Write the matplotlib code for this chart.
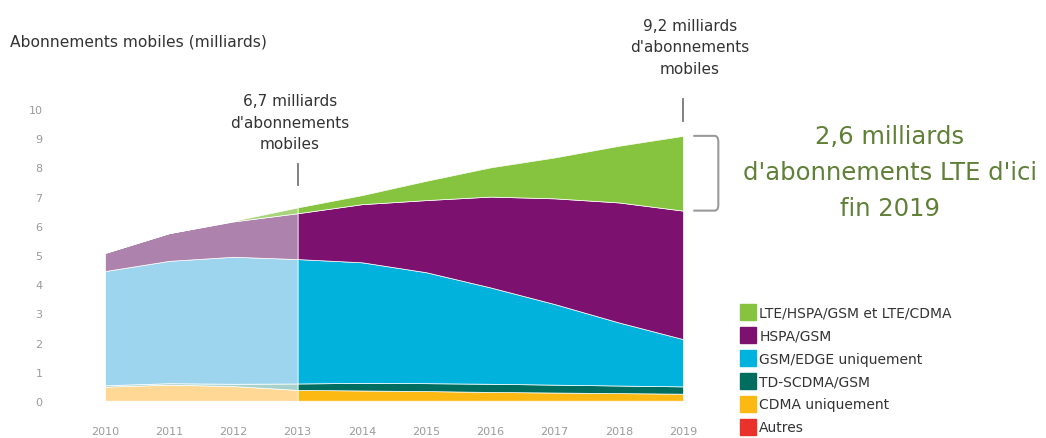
import matplotlib.pyplot as plt
from matplotlib.lines import Line2D
from matplotlib.path import Path
from matplotlib.patches import PathPatch

# Abonnements mobiles par technologie (milliards)
annees = [2010, 2011, 2012, 2013, 2014, 2015, 2016, 2017, 2018, 2019]
autres = [0.01, 0.01, 0.01, 0.01, 0.01, 0.01, 0.01, 0.01, 0.01, 0.01]
cdma = [0.48, 0.55, 0.50, 0.37, 0.35, 0.33, 0.30, 0.28, 0.26, 0.24]
td_scdma = [0.05, 0.05, 0.08, 0.22, 0.26, 0.27, 0.28, 0.27, 0.26, 0.25]
gsm_edge = [3.91, 4.19, 4.35, 4.26, 4.13, 3.80, 3.30, 2.76, 2.16, 1.62]
hspa = [0.62, 0.95, 1.21, 1.57, 1.99, 2.47, 3.11, 3.62, 4.11, 4.40]
lte = [0.0, 0.0, 0.02, 0.20, 0.31, 0.66, 1.00, 1.40, 1.94, 2.56]

series = [autres, cdma, td_scdma, gsm_edge, hspa, lte]
couleurs = ["#e8322b", "#fdb913", "#006e5f", "#00b2dc", "#7d116f", "#86c440"]
couleurs_pales = ["#f3a09b", "#ffd896", "#a6d2cb", "#9dd5ee", "#ad82ac", "#a8d47a"]
noms = ["Autres", "CDMA uniquement", "TD-SCDMA/GSM", "GSM/EDGE uniquement",
        "HSPA/GSM", "LTE/HSPA/GSM et LTE/CDMA"]

W, H = 1046, 439
fig = plt.figure(figsize=(W / 100, H / 100), dpi=100)
plt.rcParams["font.family"] = ["DejaVu Sans"]


def fx(px):
    return px / W


def fy(py):
    return 1 - py / H


ax = fig.add_axes([fx(105), fy(402), fx(683) - fx(105), fy(110) - fy(402)])
# historique 2010-2013 en pâle, prévisions 2013-2019 en plein
i = annees.index(2013)
ax.stackplot(annees[:i + 1], *[s[:i + 1] for s in series], colors=couleurs_pales,
             edgecolor="#ffffff", linewidth=0.5)
ax.stackplot(annees[i:], *[s[i:] for s in series], colors=couleurs,
             edgecolor="#ffffff", linewidth=0.5)

ax.set_xlim(2010, 2019)
ax.set_ylim(0, 10)
ax.set_xticks(annees)
ax.set_yticks(range(0, 11))
for s in ax.spines.values():
    s.set_visible(False)
ax.tick_params(axis="both", length=0, labelsize=8, colors="#9a9a9a")
ax.tick_params(axis="x", pad=18)
ax.tick_params(axis="y", pad=45)
ax.patch.set_alpha(0)

fig.text(fx(10), fy(42), "Abonnements mobiles (milliards)", fontsize=11.2,
         color="#333333", ha="left", va="center")

# repères des totaux
fig.text(fx(290), fy(123), "6,7 milliards\nd'abonnements\nmobiles", fontsize=11,
         color="#333333", ha="center", va="center", linespacing=1.55)
ax.plot([2013, 2013], [7.4, 8.1], color="#777777", lw=1.3, clip_on=False)

fig.text(fx(690), fy(48), "9,2 milliards\nd'abonnements\nmobiles", fontsize=11,
         color="#333333", ha="center", va="center", linespacing=1.55)
ax.plot([2019, 2019], [9.6, 10.35], color="#777777", lw=1.3, clip_on=False)

# accolade LTE 2019
haut = sum(s[-1] for s in series)
bas = haut - lte[-1]
x0, x1 = 2019.16, 2019.55
verts = [(x0, haut), (x1 - 0.06, haut), (x1, haut), (x1, haut - 0.2),
         (x1, bas + 0.2), (x1, bas), (x1 - 0.06, bas), (x0, bas)]
codes = [Path.MOVETO, Path.LINETO, Path.CURVE3, Path.CURVE3,
         Path.LINETO, Path.CURVE3, Path.CURVE3, Path.LINETO]
ax.add_patch(PathPatch(Path(verts, codes), fill=False, edgecolor="#9a9a9a",
                       lw=1.5, clip_on=False))

fig.text(fx(890), fy(173), "2,6 milliards\nd'abonnements LTE d'ici\nfin 2019",
         fontsize=17.5, color="#5f8036", ha="center", va="center", linespacing=1.62)

# légende
handles = [Line2D([], [], marker="s", linestyle="none", markersize=11,
                  markerfacecolor=c, markeredgecolor=c)
           for c in couleurs[::-1]]
fig.legend(handles, noms[::-1], loc="upper left",
           bbox_to_anchor=(fx(733), fy(300)), frameon=False, fontsize=10,
           labelspacing=0.64, handletextpad=0.2, handlelength=1.2,
           borderpad=0, labelcolor="#333333")

fig.savefig("out.png", dpi=100)
